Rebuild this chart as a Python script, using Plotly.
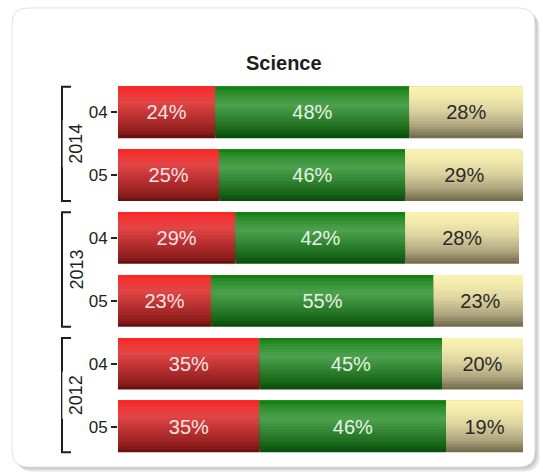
import plotly.graph_objects as go

# ---- data ----
title = "Science"
years = ["2014", "2013", "2012"]
months = ["04", "05"]
row_labels = ["04", "05", "04", "05", "04", "05"]
red_vals = [24, 25, 29, 23, 35, 35]
green_vals = [48, 46, 42, 55, 45, 46]
tan_vals = [28, 29, 28, 23, 20, 19]

# ---- layout constants ----
W, H = 543, 475
ML, MR, MT, MB = 118, 20, 81, 17
PW, PH = W - ML - MR, H - MT - MB
BAR_W = 0.82
N_LAYERS = 18

def px_x(p):
    return (p - ML) / PW

def px_y(p):
    return (H - MB - p) / PH

def hex2rgb(h):
    h = h.lstrip('#')
    return tuple(int(h[i:i + 2], 16) for i in (0, 2, 4))

def grad(stops, t):
    for (t0, c0), (t1, c1) in zip(stops, stops[1:]):
        if t0 <= t <= t1:
            f = 0 if t1 == t0 else (t - t0) / (t1 - t0)
            a, b = hex2rgb(c0), hex2rgb(c1)
            return 'rgb(%d,%d,%d)' % tuple(round(a[i] + (b[i] - a[i]) * f) for i in range(3))
    return stops[-1][1]

red_grad = [(0, '#ff1f1f'), (0.07, '#f43030'), (0.3, '#e24646'), (0.6, '#b83030'), (0.9, '#8a1c1c'), (1, '#5e0c0c')]
green_grad = [(0, '#0b7a0b'), (0.1, '#2a8c2a'), (0.35, '#4ea24e'), (0.65, '#2c7f2c'), (0.9, '#135e13'), (1, '#0a460a')]
tan_grad = [(0, '#fbf4b4'), (0.2, '#f2e9ac'), (0.45, '#ddd4a0'), (0.75, '#b0a780'), (1, '#6f6749')]

positions = list(range(len(row_labels)))
red_base = [0] * len(red_vals)
green_base = [r for r in red_vals]
tan_base = [r + g for r, g in zip(red_vals, green_vals)]

series = [
    (red_vals, red_base, red_grad, '#f6e4e4'),
    (green_vals, green_base, green_grad, '#e6f2e6'),
    (tan_vals, tan_base, tan_grad, '#2a2a2a'),
]

fig = go.Figure()
for vals, base, stops, tcol in series:
    for k in range(N_LAYERS):
        t = (N_LAYERS - k - 0.5) / N_LAYERS
        fig.add_trace(go.Bar(
            orientation='h', y=positions, x=vals, base=base,
            width=BAR_W * (N_LAYERS - k) / N_LAYERS, offset=-BAR_W / 2,
            marker=dict(color=grad(stops, t), line=dict(width=0)),
            hoverinfo='skip', showlegend=False))
for vals, base, stops, tcol in series:
    fig.add_trace(go.Bar(
        orientation='h', y=positions, x=vals, base=base,
        width=BAR_W, offset=-BAR_W / 2,
        marker=dict(color='rgba(0,0,0,0)', line=dict(width=0)),
        text=['%d%%' % v for v in vals], textposition='inside',
        insidetextanchor='middle',
        textfont=dict(family='Liberation Sans, Arial', size=20, color=tcol),
        showlegend=False))

# ---- card background with shadow ----
def rrect(x0, y0, x1, y1, r):
    X = lambda p: px_x(p)
    Y = lambda p: px_y(p)
    return ("M %f,%f L %f,%f Q %f,%f %f,%f L %f,%f Q %f,%f %f,%f "
            "L %f,%f Q %f,%f %f,%f L %f,%f Q %f,%f %f,%f Z") % (
        X(x0 + r), Y(y0), X(x1 - r), Y(y0), X(x1), Y(y0), X(x1), Y(y0 + r),
        X(x1), Y(y1 - r), X(x1), Y(y1), X(x1 - r), Y(y1),
        X(x0 + r), Y(y1), X(x0), Y(y1), X(x0), Y(y1 - r),
        X(x0), Y(y0 + r), X(x0), Y(y0), X(x0 + r), Y(y0))

shapes = []
for off in (5, 4, 3, 2, 1):
    shapes.append(dict(type='path', xref='paper', yref='paper', layer='below',
                       path=rrect(12 + off, 8 + off, 535 + off, 467 + off, 16),
                       fillcolor='rgba(0,0,0,0.05)', line=dict(width=0)))
shapes.append(dict(type='path', xref='paper', yref='paper', layer='below',
                   path=rrect(12, 8, 535, 467, 16), fillcolor='white',
                   line=dict(color='#e2e2e2', width=1)))

# ---- year brackets ----
annotations = []
bx, hx = px_x(62), px_x(71)
for gi, yr in enumerate(years):
    first = positions[gi * len(months)]
    last = positions[gi * len(months) + len(months) - 1]
    top, bot = first - BAR_W / 2, last + BAR_W / 2
    shapes.append(dict(type='path', xref='paper', yref='y',
                       path='M %f,%f L %f,%f L %f,%f L %f,%f' % (hx, top, bx, top, bx, bot, hx, bot),
                       line=dict(color='#1e1e1e', width=2)))
    annotations.append(dict(x=bx, y=(first + last) / 2, xref='paper', yref='y',
                            text=yr, textangle=-90, showarrow=False,
                            bgcolor='white', borderpad=3,
                            font=dict(family='Liberation Sans, Arial', size=18, color='#1e1e1e')))

annotations.append(dict(x=px_x(284), y=px_y(63), xref='paper', yref='paper',
                        text='<b>%s</b>' % title, showarrow=False,
                        xanchor='center', yanchor='middle',
                        font=dict(family='Liberation Sans, Arial', size=20, color='#1e1e1e')))

fig.update_layout(
    width=W, height=H, barmode='overlay',
    margin=dict(l=ML, r=MR, t=MT, b=MB),
    paper_bgcolor='white', plot_bgcolor='rgba(0,0,0,0)',
    shapes=shapes, annotations=annotations,
    xaxis=dict(range=[0, 100], visible=False, fixedrange=True),
    yaxis=dict(range=[len(row_labels) - 0.5, -0.5], tickmode='array',
               tickvals=positions, ticktext=row_labels,
               ticks='outside', ticklen=6, tickwidth=1.5, tickcolor='#222222',
               tickfont=dict(family='Liberation Sans, Arial', size=17, color='#222222'),
               showgrid=False, zeroline=False, showline=False, fixedrange=True),
)

fig.write_html('out.html')
